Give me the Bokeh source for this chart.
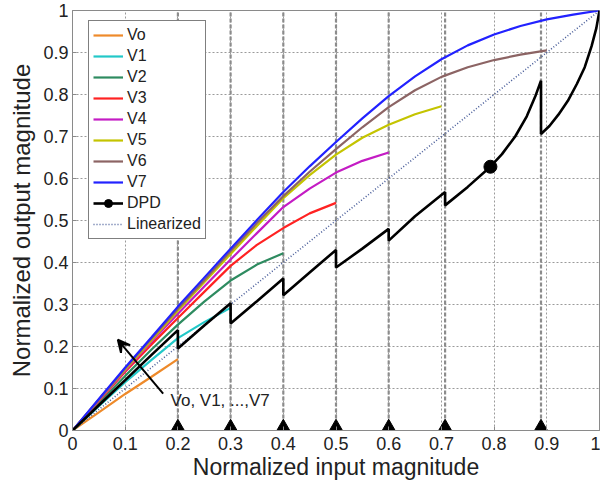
import math
from bokeh.plotting import figure
from bokeh.models import (Legend, LegendItem, Arrow, VeeHead, Label,
                          FixedTicker)
from bokeh.embed import file_html
from bokeh.resources import INLINE

# ---------------- data ----------------
x_grid = [0.0, 0.05, 0.1, 0.15, 0.2, 0.25, 0.3, 0.35, 0.4, 0.45, 0.5,
          0.55, 0.6, 0.65, 0.7, 0.75, 0.8, 0.85, 0.9, 0.95, 1.0]

v0 = [0, 0.043, 0.087, 0.128, 0.17]
v1 = [0, 0.058, 0.115, 0.168, 0.22, 0.258, 0.292]
v2 = [0, 0.065, 0.13, 0.193, 0.252, 0.307, 0.357, 0.395, 0.422]
v3 = [0, 0.07, 0.14, 0.205, 0.268, 0.33, 0.392, 0.442, 0.482, 0.517, 0.542]
v4 = [0, 0.072, 0.143, 0.212, 0.278, 0.343, 0.407, 0.47, 0.532, 0.576, 0.614,
      0.642, 0.662]
v5 = [0, 0.073, 0.145, 0.215, 0.285, 0.353, 0.42, 0.487, 0.553, 0.608, 0.657,
      0.697, 0.728, 0.753, 0.772]
v6 = [0, 0.074, 0.148, 0.219, 0.29, 0.358, 0.427, 0.494, 0.558, 0.616, 0.67,
      0.722, 0.77, 0.81, 0.842, 0.865, 0.882, 0.895, 0.905]
v7 = [0, 0.075, 0.15, 0.222, 0.295, 0.364, 0.433, 0.501, 0.568, 0.629, 0.687,
      0.743, 0.796, 0.843, 0.884, 0.917, 0.943, 0.963, 0.979, 0.99, 1.0]

dpd_x = [0, 0.05, 0.1, 0.15, 0.2, 0.2, 0.25, 0.3, 0.3, 0.35, 0.4, 0.4, 0.45,
         0.5, 0.5, 0.55, 0.6, 0.6, 0.65, 0.707, 0.707, 0.75, 0.793, 0.815,
         0.84, 0.862, 0.878, 0.889, 0.889, 0.905, 0.922, 0.94, 0.957, 0.972,
         0.985, 0.994, 1.0]
dpd_y = [0, 0.06, 0.12, 0.18, 0.239, 0.195, 0.25, 0.303, 0.255, 0.308, 0.362,
         0.322, 0.376, 0.43, 0.388, 0.433, 0.48, 0.452, 0.51, 0.568, 0.536,
         0.58, 0.628, 0.658, 0.7, 0.748, 0.795, 0.833, 0.706, 0.725, 0.752,
         0.785, 0.825, 0.865, 0.915, 0.958, 1.0]
dpd_marker_x = [0.793]
dpd_marker_y = [0.628]

lin_x = [0, 1]
lin_y = [0, 1]

breaks = [0.2, 0.3, 0.4, 0.5, 0.6, 0.707, 0.889]

ticks = [0, 0.1, 0.2, 0.3, 0.4, 0.5, 0.6, 0.7, 0.8, 0.9, 1.0]
tick_labels = ["0", "0.1", "0.2", "0.3", "0.4", "0.5", "0.6", "0.7", "0.8",
               "0.9", "1"]

names = ["Vo", "V1", "V2", "V3", "V4", "V5", "V6", "V7"]
colors = ["#EE8A2A", "#22C8C8", "#2E8B60", "#FF2222", "#C41CC4", "#C4C400",
          "#8C6464", "#2222FF"]
series = [v0, v1, v2, v3, v4, v5, v6, v7]

annot_text = "Vo, V1, ...,V7"
arrow_tail = (0.172, 0.088)
arrow_head = (0.086, 0.216)
annot_pos = (0.186, 0.071)

Y_LO, Y_HI = 0, 1

# ---------------- figure ----------------
FONT = "Liberation Sans"
W, H = 600, 484
B_LEFT, B_RIGHT, B_TOP, B_BOTTOM = 72, 1, 10, 54

p = figure(width=W, height=H, x_range=(0, 1), y_range=(Y_LO, Y_HI),
           output_backend="svg", toolbar_location=None,
           min_border_left=B_LEFT, min_border_right=B_RIGHT,
           min_border_top=B_TOP, min_border_bottom=B_BOTTOM)
p.background_fill_color = "white"
p.border_fill_color = "white"
p.outline_line_color = "#8a8a8a"
p.outline_line_width = 1

for ax in (p.xaxis[0], p.yaxis[0]):
    ax.ticker = FixedTicker(ticks=ticks)
    ax.major_label_overrides = {t: l for t, l in zip(ticks, tick_labels)}
    ax.major_label_text_font = FONT
    ax.major_label_text_font_size = "18px"
    ax.major_label_text_color = "#222222"
    ax.axis_label_text_font = FONT
    ax.axis_label_text_font_style = "normal"
    ax.axis_label_text_color = "#222222"
    ax.axis_line_color = "#8a8a8a"
    ax.major_tick_in = 4
    ax.major_tick_out = 0
    ax.major_tick_line_color = "#8a8a8a"
    ax.minor_tick_line_color = None

p.xaxis.axis_label = "Normalized input magnitude"
p.yaxis.axis_label = "Normalized output magnitude"
p.xaxis.axis_label_text_font_size = "23px"
p.yaxis.axis_label_text_font_size = "24px"
p.xaxis.major_label_standoff = 6
p.yaxis.major_label_standoff = 4
p.xaxis.axis_label_standoff = 1
p.yaxis.axis_label_standoff = 5

for g in (p.xgrid[0], p.ygrid[0]):
    g.ticker = FixedTicker(ticks=ticks)
    g.grid_line_color = "#9a9a9a"
    g.grid_line_dash = "2 2"
    g.grid_line_width = 1

# vertical dashed lines at segment breaks (drawn as glyphs, below markers)
p.segment(x0=breaks, y0=[Y_LO] * len(breaks), x1=breaks,
          y1=[Y_HI] * len(breaks), line_color="#8c8c8c", line_width=2.2,
          line_dash="4 2")

# curves
renderers = []
for name, c, v in zip(names, colors, series):
    r = p.line(x_grid[:len(v)], v, line_color=c, line_width=2.2)
    renderers.append(r)

r_lin = p.line(lin_x, lin_y, line_color="#4A5E9A", line_width=1.6,
               line_dash="1 2")
r_dpd = p.line(dpd_x, dpd_y, line_color="black", line_width=2.6)
r_dpd_m = p.scatter(dpd_marker_x, dpd_marker_y, size=13, marker="circle",
                    fill_color="black", line_color="black")

# triangles sitting on the x-axis
frame_h = H - B_TOP - B_BOTTOM
tri_size = 13
tri_y = (tri_size / 2) * math.sqrt(3) / 3 / frame_h * (Y_HI - Y_LO)
p.scatter(breaks, [tri_y] * len(breaks), marker="triangle", size=tri_size,
          fill_color="black", line_color="black")

# annotation
p.add_layout(Arrow(end=VeeHead(size=12, line_color="black", line_width=2,
                               fill_color="black"),
                   x_start=arrow_tail[0], y_start=arrow_tail[1],
                   x_end=arrow_head[0], y_end=arrow_head[1],
                   line_color="black", line_width=2))
p.add_layout(Label(x=annot_pos[0], y=annot_pos[1], text=annot_text,
                   text_font=FONT, text_font_size="17px",
                   text_baseline="middle", text_align="left",
                   text_color="#222222"))

# legend
items = [LegendItem(label=n, renderers=[r]) for n, r in zip(names, renderers)]
items.append(LegendItem(label="DPD", renderers=[r_dpd, r_dpd_m]))
items.append(LegendItem(label="Linearized", renderers=[r_lin]))
leg_h = 2 * 4 + 10 * 20 + 9 * 1
legend = Legend(items=items, location=(16, frame_h - 12 - leg_h),
                label_text_font=FONT, label_text_font_size="16px",
                label_text_color="#222222",
                label_height=20, glyph_height=20, glyph_width=30,
                label_standoff=4, spacing=1, padding=4, margin=0,
                border_line_color="black", border_line_width=1.2,
                background_fill_color="white", background_fill_alpha=1)
p.add_layout(legend)

open("out.html", "w").write(file_html(p, INLINE))
